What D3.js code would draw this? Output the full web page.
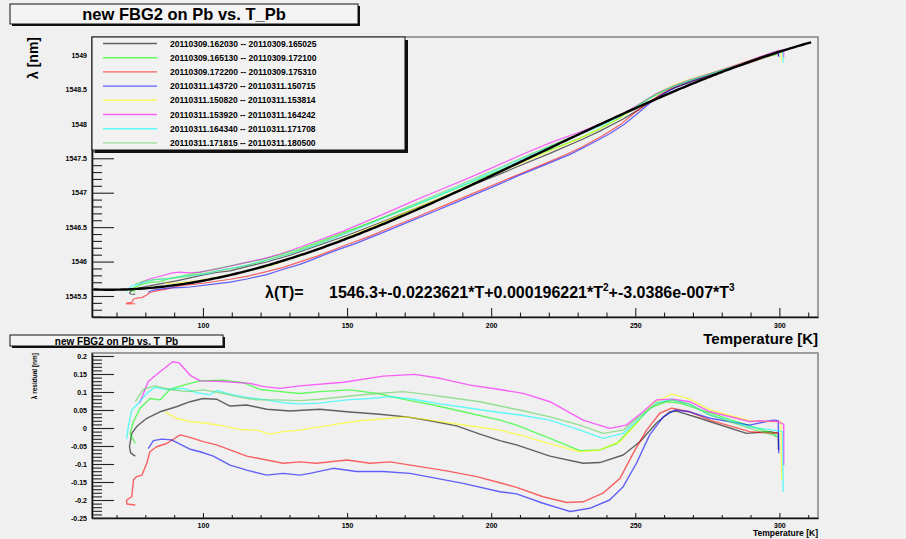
<!DOCTYPE html>
<html><head><meta charset="utf-8">
<script src="https://cdn.jsdelivr.net/npm/d3@7"></script>
<style>
html,body{margin:0;padding:0;background:#f0f0f0;}
svg text{font-family:"Liberation Sans",Arial,sans-serif;font-weight:bold;fill:#000;}
</style></head>
<body>
<svg id="c" width="906" height="539"></svg>
<script>
// ---------------- DATA ----------------
const seriesNames = [
  "20110309.162030 -- 20110309.165025",
  "20110309.165130 -- 20110309.172100",
  "20110309.172200 -- 20110309.175310",
  "20110311.143720 -- 20110311.150715",
  "20110311.150820 -- 20110311.153814",
  "20110311.153920 -- 20110311.164242",
  "20110311.164340 -- 20110311.171708",
  "20110311.171815 -- 20110311.180500"
];
const seriesColors = ["#000000","#00ff00","#ff0000","#0000ff","#ffff00","#ff00ff","#00ffff","#59d454"];

// fit polynomial shown on the chart: λ(T) = c0 + c1 T + c2 T^2 + c3 T^3
const fitCoefs = [1546.3, -0.0223621, 0.000196221, -3.0386e-007];
const fitRange = [62, 311];

// residuals [T (K), λ residual (nm)]
const resBlack = [[76.5,-0.078],[74.9,-0.069],[74.5,-0.052],[75.3,-0.015],[77.0,0.004],[80.5,0.027],[85.1,0.045],[90.8,0.059],[95.5,0.073],[100.1,0.082],[104.7,0.080],[109.4,0.061],[115.2,0.064],[122.1,0.052],[130.2,0.047],[140.5,0.052],[149.9,0.045],[160.3,0.039],[170.6,0.031],[178.8,0.020],[188.0,0.006],[196.1,-0.017],[203.0,-0.035],[208.8,-0.047],[220.4,-0.078],[231.9,-0.098],[237.7,-0.096],[245.8,-0.075],[251.6,-0.038],[257.3,0.013],[262.0,0.045],[264.3,0.047],[272.4,0.027],[275.8,0.018],[288.6,-0.015],[296.7,-0.010],[299.6,-0.015],[299.7,-0.061]];
const resGreen = [[76.5,-0.043],[74.7,-0.015],[75.9,0.018],[78.2,0.055],[81.6,0.082],[85.1,0.078],[88.5,0.107],[93.2,0.119],[99.0,0.131],[107.0,0.133],[114.0,0.126],[119.8,0.107],[126.8,0.101],[133.6,0.096],[140.5,0.101],[151.0,0.106],[160.3,0.096],[170.6,0.078],[179.9,0.064],[190.3,0.045],[203.0,0.022],[208.8,0.008],[220.4,-0.029],[230.8,-0.063],[237.7,-0.061],[243.6,-0.043],[249.3,0.004],[255.0,0.055],[260.9,0.073],[265.5,0.069],[275.9,0.042],[289.7,0.006],[297.8,-0.015],[299.2,-0.024]];
const resRed = [[76.5,-0.214],[73.6,-0.211],[73.5,-0.200],[75.3,-0.191],[75.9,-0.144],[77.0,-0.135],[78.8,-0.131],[80.5,-0.098],[81.6,-0.066],[83.9,-0.052],[87.4,-0.043],[92.1,-0.019],[95.5,-0.026],[100.1,-0.038],[104.7,-0.047],[109.4,-0.061],[115.2,-0.078],[122.1,-0.089],[127.9,-0.098],[133.6,-0.094],[139.4,-0.098],[149.9,-0.089],[158.0,-0.098],[164.9,-0.094],[174.2,-0.106],[184.5,-0.119],[195.0,-0.135],[203.0,-0.152],[208.8,-0.165],[218.0,-0.191],[226.2,-0.207],[231.9,-0.205],[238.8,-0.181],[244.7,-0.140],[249.3,-0.070],[253.9,-0.006],[258.5,0.041],[262.6,0.055],[268.9,0.045],[275.9,0.022],[289.7,-0.010],[297.8,-0.015],[299.5,-0.012]];
const resBlue = [[81.0,-0.057],[82.8,-0.035],[85.7,-0.031],[89.1,-0.033],[92.0,-0.045],[95.5,-0.059],[99.0,-0.066],[103.6,-0.078],[109.4,-0.103],[115.2,-0.117],[122.1,-0.131],[127.9,-0.126],[133.6,-0.131],[137.1,-0.126],[145.2,-0.112],[153.3,-0.121],[162.6,-0.121],[171.8,-0.126],[181.1,-0.140],[190.3,-0.154],[203.0,-0.177],[208.8,-0.183],[218.0,-0.209],[227.4,-0.232],[234.2,-0.223],[241.1,-0.200],[245.8,-0.163],[250.4,-0.098],[255.0,-0.019],[259.7,0.031],[263.8,0.050],[268.9,0.045],[275.9,0.027],[289.7,0.008],[297.8,0.022],[299.6,0.020],[299.8,-0.070]];
const resYellow = [[86.8,0.045],[90.8,0.027],[95.5,0.018],[101.3,0.013],[107.0,0.006],[112.9,-0.004],[118.6,-0.006],[123.2,-0.017],[127.9,-0.010],[133.6,-0.006],[144.1,0.008],[154.4,0.020],[164.9,0.027],[170.6,0.031],[178.8,0.022],[188.0,0.011],[196.1,0.002],[203.0,-0.006],[209.9,-0.019],[220.4,-0.044],[230.8,-0.066],[237.7,-0.061],[244.7,-0.038],[250.4,0.013],[256.2,0.069],[262.6,0.094],[268.9,0.080],[275.9,0.050],[289.7,0.020],[297.8,0.018],[300.5,0.017],[300.8,-0.144]];
const resMagenta = [[78.0,0.069],[81.0,0.129],[85.1,0.156],[89.5,0.184],[91.7,0.181],[95.5,0.147],[99.0,0.131],[107.0,0.129],[116.3,0.124],[121.0,0.115],[126.8,0.110],[133.6,0.117],[148.7,0.127],[162.6,0.144],[173.5,0.149],[182.2,0.138],[192.7,0.119],[203.0,0.107],[211.1,0.096],[220.4,0.073],[231.9,0.022],[241.1,-0.001],[246.9,0.008],[252.7,0.045],[257.3,0.078],[263.0,0.080],[268.9,0.073],[275.9,0.045],[289.7,0.018],[293.2,0.020],[299.6,0.018],[301.5,0.010],[301.5,-0.103]];
const resCyan = [[73.5,-0.031],[74.1,0.004],[75.3,0.050],[77.6,0.069],[80.5,0.096],[83.3,0.113],[87.4,0.107],[93.2,0.110],[97.8,0.098],[102.4,0.092],[104.7,0.104],[109.4,0.094],[115.2,0.085],[122.1,0.078],[127.9,0.070],[133.6,0.067],[140.5,0.069],[149.9,0.078],[158.0,0.082],[164.9,0.087],[173.0,0.080],[182.2,0.067],[192.7,0.055],[203.0,0.043],[209.9,0.036],[220.4,0.022],[230.8,-0.006],[238.8,-0.029],[245.8,-0.015],[251.6,0.027],[257.3,0.070],[262.6,0.078],[268.9,0.066],[275.9,0.036],[289.7,0.003],[297.8,-0.006],[301.1,-0.010],[301.3,-0.177]];
const resLightGreen = [[76.5,0.073],[79.3,0.107],[83.3,0.117],[88.5,0.107],[94.4,0.101],[100.1,0.106],[107.0,0.096],[112.9,0.085],[118.6,0.078],[125.6,0.078],[133.6,0.076],[140.5,0.080],[151.0,0.089],[160.3,0.096],[169.5,0.101],[178.8,0.092],[188.0,0.082],[196.1,0.073],[203.0,0.061],[209.9,0.050],[220.4,0.031],[230.8,0.008],[238.8,-0.015],[245.8,-0.006],[251.6,0.033],[257.3,0.067],[262.6,0.078],[268.9,0.066],[275.9,0.036],[289.7,-0.001],[297.8,-0.020],[299.0,-0.025]];
const residuals = [resBlack,resGreen,resRed,resBlue,resYellow,resMagenta,resCyan,resLightGreen];

const topYTicks = [1545.5,1546,1546.5,1547,1547.5,1548,1548.5,1549];
const topYTickLabels = ["1545.5","1546","1546.5","1547","1547.5","1548","1548.5","1549"];
const botYTicks = [-0.25,-0.2,-0.15,-0.1,-0.05,0,0.05,0.1,0.15,0.2];
const botYTickLabels = ["-0.25","-0.2","-0.15","-0.1","-0.05","0","0.05","0.1","0.15","0.2"];
const xTicks = [100,150,200,250,300];
const xTickLabels = ["100","150","200","250","300"];
const titleText = "new FBG2 on Pb vs. T_Pb";

// ---------------- DRAW ----------------
const svg = d3.select("#c");
const fit = T => fitCoefs[0] + fitCoefs[1]*T + fitCoefs[2]*T*T + fitCoefs[3]*T*T*T;

const x = d3.scaleLinear().domain([61.5, 313.4]).range([92, 818]);
const yTop = d3.scaleLinear().domain([1545.195, 1549.261]).range([317, 37]);
const yBot = d3.scaleLinear().domain([-0.25, 0.2083]).range([518, 353]);

function frame(y0, y1){
  svg.append("rect").attr("x",92).attr("y",y0).attr("width",726).attr("height",y1-y0)
     .attr("fill","none").attr("stroke","#8a8a8a").attr("stroke-width",1.6);
}
frame(37,317); frame(353,518);

function xAxis(yPos, major, minor, pad, fs){
  const mv = d3.range(70, 311, 10).filter(v=>v%50!==0);
  const gMin = svg.append("g").attr("transform",`translate(0,${yPos})`)
    .call(d3.axisBottom(x).tickValues(mv).tickSize(-minor).tickSizeOuter(0).tickFormat(""));
  gMin.select(".domain").remove();
  const g = svg.append("g").attr("transform",`translate(0,${yPos})`)
    .call(d3.axisBottom(x).tickValues(xTicks).tickSize(-major).tickSizeOuter(0).tickPadding(pad)
      .tickFormat((d,i)=>xTickLabels[i]));
  [g,gMin].forEach(gg=>{gg.selectAll("line").attr("stroke","#222").attr("stroke-width",1.1);});
  g.select(".domain").attr("stroke","#111").attr("stroke-width",1.6);
  g.selectAll("text").attr("font-size",fs).attr("font-family","Liberation Sans, Arial, sans-serif").attr("font-weight","bold");
}
function yAxis(scale, ticks, labels, minorVals, major, minor, fs){
  const gMin = svg.append("g").attr("transform","translate(92,0)")
    .call(d3.axisLeft(scale).tickValues(minorVals).tickSize(-minor).tickSizeOuter(0).tickFormat(""));
  gMin.select(".domain").remove();
  const g = svg.append("g").attr("transform","translate(92,0)")
    .call(d3.axisLeft(scale).tickValues(ticks).tickSize(-major).tickSizeOuter(0).tickPadding(5)
      .tickFormat((d,i)=>labels[i]));
  [g,gMin].forEach(gg=>{gg.selectAll("line").attr("stroke","#222").attr("stroke-width",1.1);});
  g.select(".domain").attr("stroke","#111").attr("stroke-width",1.6);
  g.selectAll("text").attr("font-size",fs).attr("font-family","Liberation Sans, Arial, sans-serif").attr("font-weight","bold");
}
const topMinor = d3.range(15452, 15493, 1).map(v=>v/10).filter(v=>Math.abs(v*2-Math.round(v*2))>1e-6);
const botMinor = d3.range(-25, 21, 1).map(v=>v/100).filter(v=>Math.abs(v*20-Math.round(v*20))>1e-6);
xAxis(317, 9, 4.5, 6, 7);
yAxis(yTop, topYTicks, topYTickLabels, topMinor, 22, 10, 7);
xAxis(518, 5, 3, 5, 7);
yAxis(yBot, botYTicks, botYTickLabels, botMinor, 22, 10, 7);

// clip paths
svg.append("clipPath").attr("id","cpTop").append("rect").attr("x",92).attr("y",37).attr("width",726).attr("height",280);
svg.append("clipPath").attr("id","cpBot").append("rect").attr("x",92).attr("y",353).attr("width",726).attr("height",165);

// top panel data (λ = fit + residual)
const lineTop = d3.line().x(d=>x(d[0])).y(d=>yTop(fit(d[0])+d[1]));
const lineBot = d3.line().x(d=>x(d[0])).y(d=>yBot(d[1]));
const gTop = svg.append("g").attr("clip-path","url(#cpTop)");
const gBot = svg.append("g").attr("clip-path","url(#cpBot)");
residuals.forEach((r,i)=>{
  gTop.append("path").attr("d",lineTop(r)).attr("fill","none").attr("stroke",seriesColors[i])
    .attr("stroke-width",1.2).attr("stroke-opacity",0.6).attr("stroke-linejoin","round");
  gBot.append("path").attr("d",lineBot(r)).attr("fill","none").attr("stroke",seriesColors[i])
    .attr("stroke-width",1.4).attr("stroke-opacity",0.6).attr("stroke-linejoin","round");
});
// fit curve
const fitT = d3.range(fitRange[0], fitRange[1]+0.01, 1);
gTop.append("path").attr("d", d3.line().x(t=>x(t)).y(t=>yTop(fit(t)))(fitT))
  .attr("fill","none").attr("stroke","#000").attr("stroke-width",2.4);

// titles
function titleBox(x0,y0,w,h,fs,base){
  svg.append("rect").attr("x",x0+2).attr("y",y0+2).attr("width",w).attr("height",h).attr("fill","#111");
  svg.append("rect").attr("x",x0).attr("y",y0).attr("width",w).attr("height",h).attr("fill","#f4f4f4").attr("stroke","#111").attr("stroke-width",1);
  svg.append("text").attr("x",x0+w/2).attr("y",base).attr("text-anchor","middle").attr("font-size",fs).text(titleText);
}
titleBox(10,4,348,20,16.5,19.5);
titleBox(10,335,213,11,10,344.5);

// axis titles
svg.append("text").attr("transform","translate(38,37) rotate(-90)").attr("text-anchor","end").attr("font-size",14).text("λ [nm]");
svg.append("text").attr("transform","translate(37,353) rotate(-90)").attr("text-anchor","end").attr("font-size",6.5).text("λ residual [nm]");
svg.append("text").attr("x",818).attr("y",344).attr("text-anchor","end").attr("font-size",15).text("Temperature [K]");
svg.append("text").attr("x",818).attr("y",536).attr("text-anchor","end").attr("font-size",8.5).text("Temperature [K]");

// formula
svg.append("text").attr("x",265).attr("y",298).attr("font-size",16).text("λ(T)=");
const f = svg.append("text").attr("x",329).attr("y",298).attr("font-size",16);
f.append("tspan").text("1546.3+-0.0223621*T+0.000196221*T");
f.append("tspan").attr("dy",-7).attr("font-size",10).text("2");
f.append("tspan").attr("dy",7).text("+-3.0386e-007*T");
f.append("tspan").attr("dy",-7).attr("font-size",10).text("3");

// legend
const lg = svg.append("g");
lg.append("rect").attr("x",95).attr("y",40).attr("width",313).attr("height",113).attr("fill","#111");
lg.append("rect").attr("x",92).attr("y",37).attr("width",313).attr("height",113).attr("fill","#f2f2f2").attr("stroke","#111").attr("stroke-width",1);
seriesNames.forEach((n,i)=>{
  const yy = 43.5 + i*14.2;
  lg.append("line").attr("x1",103).attr("x2",157).attr("y1",yy).attr("y2",yy)
    .attr("stroke",seriesColors[i]).attr("stroke-width",1.4).attr("stroke-opacity",0.6);
  lg.append("text").attr("x",170).attr("y",yy+3.1).attr("font-size",8.5).text(n);
});
</script>
</body></html>
